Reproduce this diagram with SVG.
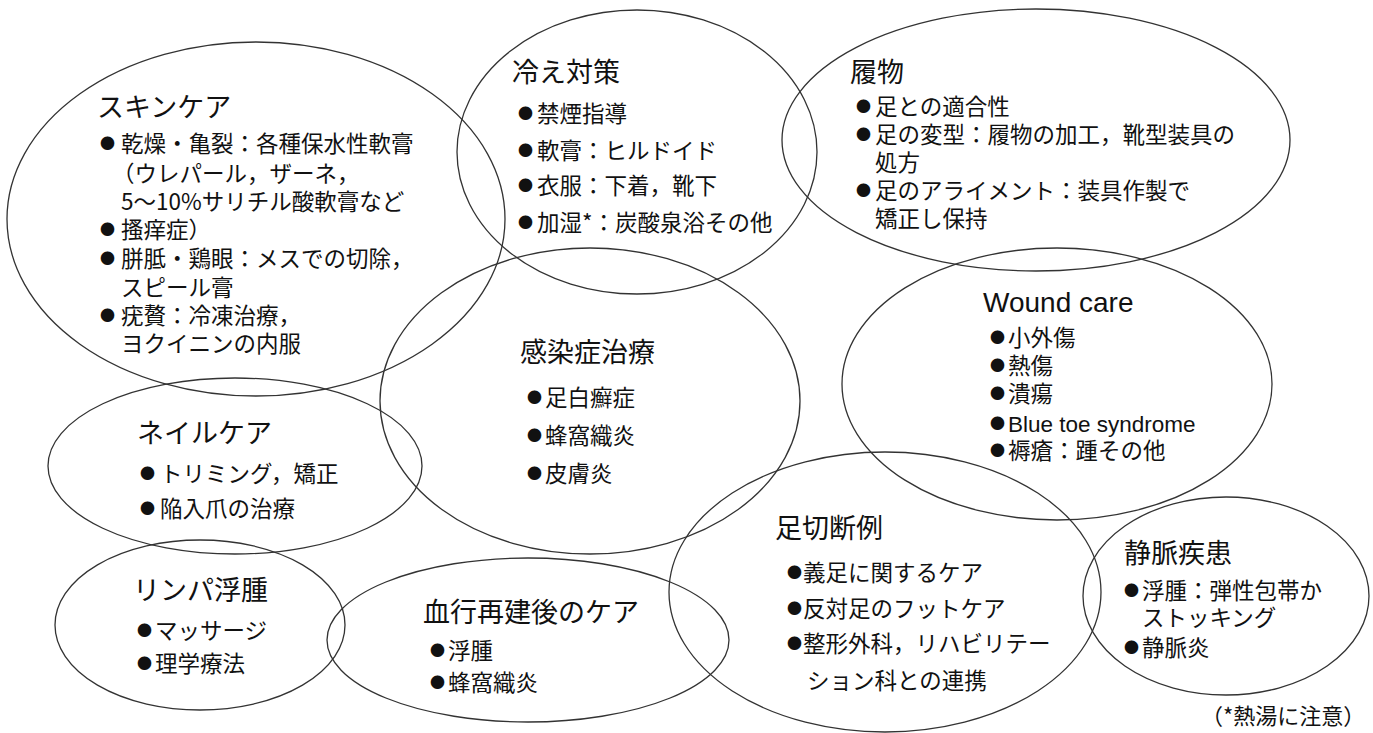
<svg xmlns="http://www.w3.org/2000/svg" width="1373" height="733" viewBox="0 0 1373 733">
<style>
.e{fill:none;stroke:#333;stroke-width:1.3}
.t{font-family:"Noto Sans CJK JP","Noto Sans CJK SC",sans-serif;font-size:27px;fill:#111}
.i{font-family:"Noto Sans CJK JP","Noto Sans CJK SC",sans-serif;font-size:22.5px;fill:#111}
.b{font-size:15px}
.l{font-family:"Liberation Sans",Arial,"Noto Sans CJK JP",sans-serif}
</style>
<rect width="1373" height="733" fill="#fff"/>
<g id="skincare">
<ellipse class="e" cx="256" cy="219" rx="249" ry="177"/>
<text class="t" x="97" y="117">スキンケア</text>
<text class="i" x="100" y="151.5"><tspan class="b" dy="-3">●</tspan><tspan x="121" dy="3">乾燥・亀裂：各種保水性軟膏</tspan></text>
<text class="i" x="112" y="181.5">（ウレパール，ザーネ，</text>
<text class="i" x="121" y="209.5">5〜10%サリチル酸軟膏など</text>
<text class="i" x="100" y="237.5"><tspan class="b" dy="-3">●</tspan><tspan x="121" dy="3">搔痒症）</tspan></text>
<text class="i" x="100" y="266.5"><tspan class="b" dy="-3">●</tspan><tspan x="121" dy="3">胼胝・鶏眼：メスでの切除，</tspan></text>
<text class="i" x="121" y="295.5">スピール膏</text>
<text class="i" x="100" y="323.5"><tspan class="b" dy="-3">●</tspan><tspan x="121" dy="3">疣贅：冷凍治療，</tspan></text>
<text class="i" x="121" y="351.5">ヨクイニンの内服</text>
</g>
<g id="cold">
<ellipse class="e" cx="637" cy="152" rx="180" ry="142"/>
<text class="t" x="512" y="82">冷え対策</text>
<text class="i" x="518" y="121.5"><tspan class="b" dy="-3">●</tspan><tspan x="537" dy="3">禁煙指導</tspan></text>
<text class="i" x="518" y="158.5"><tspan class="b" dy="-3">●</tspan><tspan x="537" dy="3">軟膏：ヒルドイド</tspan></text>
<text class="i" x="518" y="193.5"><tspan class="b" dy="-3">●</tspan><tspan x="537" dy="3">衣服：下着，靴下</tspan></text>
<text class="i" x="518" y="230.5"><tspan class="b" dy="-3">●</tspan><tspan x="537" dy="3">加湿*：炭酸泉浴その他</tspan></text>
</g>
<g id="footwear">
<ellipse class="e" cx="1036" cy="140" rx="254" ry="131"/>
<text class="t" x="850" y="82">履物</text>
<text class="i" x="856" y="114.5"><tspan class="b" dy="-3">●</tspan><tspan x="875" dy="3">足との適合性</tspan></text>
<text class="i" x="856" y="142.5"><tspan class="b" dy="-3">●</tspan><tspan x="875" dy="3">足の変型：履物の加工，靴型装具の</tspan></text>
<text class="i" x="875" y="170.5">処方</text>
<text class="i" x="856" y="198.5"><tspan class="b" dy="-3">●</tspan><tspan x="875" dy="3">足のアライメント：装具作製で</tspan></text>
<text class="i" x="875" y="226.5">矯正し保持</text>
</g>
<g id="woundcare">
<ellipse class="e" cx="1057" cy="384" rx="215" ry="136"/>
<text class="t l" x="983" y="312" style="font-size:28px">Wound care</text>
<text class="i" x="990" y="345.5"><tspan class="b" dy="-3">●</tspan><tspan x="1008" dy="3">小外傷</tspan></text>
<text class="i" x="990" y="373.5"><tspan class="b" dy="-3">●</tspan><tspan x="1008" dy="3">熱傷</tspan></text>
<text class="i" x="990" y="401.5"><tspan class="b" dy="-3">●</tspan><tspan x="1008" dy="3">潰瘍</tspan></text>
<text class="i" x="990" y="431.5"><tspan class="b" dy="-3">●</tspan><tspan class="l" x="1008" dy="3">Blue toe syndrome</tspan></text>
<text class="i" x="990" y="458.5"><tspan class="b" dy="-3">●</tspan><tspan x="1008" dy="3">褥瘡：踵その他</tspan></text>
</g>
<g id="infection">
<ellipse class="e" cx="590" cy="401" rx="210" ry="153"/>
<text class="t" x="520" y="362">感染症治療</text>
<text class="i" x="527" y="405.5"><tspan class="b" dy="-3">●</tspan><tspan x="545" dy="3">足白癬症</tspan></text>
<text class="i" x="527" y="443.5"><tspan class="b" dy="-3">●</tspan><tspan x="545" dy="3">蜂窩織炎</tspan></text>
<text class="i" x="527" y="481.5"><tspan class="b" dy="-3">●</tspan><tspan x="545" dy="3">皮膚炎</tspan></text>
</g>
<g id="nailcare">
<ellipse class="e" cx="235" cy="466" rx="187" ry="88"/>
<text class="t" x="137" y="443">ネイルケア</text>
<text class="i" x="140" y="481.5"><tspan class="b" dy="-3">●</tspan><tspan x="160" dy="3">トリミング，矯正</tspan></text>
<text class="i" x="140" y="516.5"><tspan class="b" dy="-3">●</tspan><tspan x="160" dy="3">陥入爪の治療</tspan></text>
</g>
<g id="lymphedema">
<ellipse class="e" cx="200" cy="625" rx="145" ry="85"/>
<text class="t" x="133" y="600">リンパ浮腫</text>
<text class="i" x="137" y="638.5"><tspan class="b" dy="-3">●</tspan><tspan x="155" dy="3">マッサージ</tspan></text>
<text class="i" x="137" y="671.5"><tspan class="b" dy="-3">●</tspan><tspan x="155" dy="3">理学療法</tspan></text>
</g>
<g id="revasc">
<ellipse class="e" cx="528" cy="640" rx="201" ry="82"/>
<text class="t" x="423" y="622">血行再建後のケア</text>
<text class="i" x="430" y="658.5"><tspan class="b" dy="-3">●</tspan><tspan x="448" dy="3">浮腫</tspan></text>
<text class="i" x="430" y="690.5"><tspan class="b" dy="-3">●</tspan><tspan x="448" dy="3">蜂窩織炎</tspan></text>
</g>
<g id="amputation">
<ellipse class="e" cx="885" cy="592" rx="216" ry="140"/>
<text class="t" x="775" y="538">足切断例</text>
<text class="i" x="787" y="580.5"><tspan class="b" dy="-3">●</tspan><tspan x="803" dy="3">義足に関するケア</tspan></text>
<text class="i" x="787" y="616.5"><tspan class="b" dy="-3">●</tspan><tspan x="803" dy="3">反対足のフットケア</tspan></text>
<text class="i" x="787" y="651.5"><tspan class="b" dy="-3">●</tspan><tspan x="803" dy="3">整形外科，リハビリテー</tspan></text>
<text class="i" x="807" y="688.5">ション科との連携</text>
</g>
<g id="venous">
<ellipse class="e" cx="1226" cy="596" rx="143" ry="99"/>
<text class="t" x="1124" y="563">静脈疾患</text>
<text class="i" x="1124" y="598.5"><tspan class="b" dy="-3">●</tspan><tspan x="1142" dy="3">浮腫：弾性包帯か</tspan></text>
<text class="i" x="1142" y="625.5">ストッキング</text>
<text class="i" x="1124" y="655.5"><tspan class="b" dy="-3">●</tspan><tspan x="1142" dy="3">静脈炎</tspan></text>
</g>
<g id="note">
<text class="i" x="1201" y="724" style="font-size:22px">（*熱湯に注意）</text>
</g>
</svg>
